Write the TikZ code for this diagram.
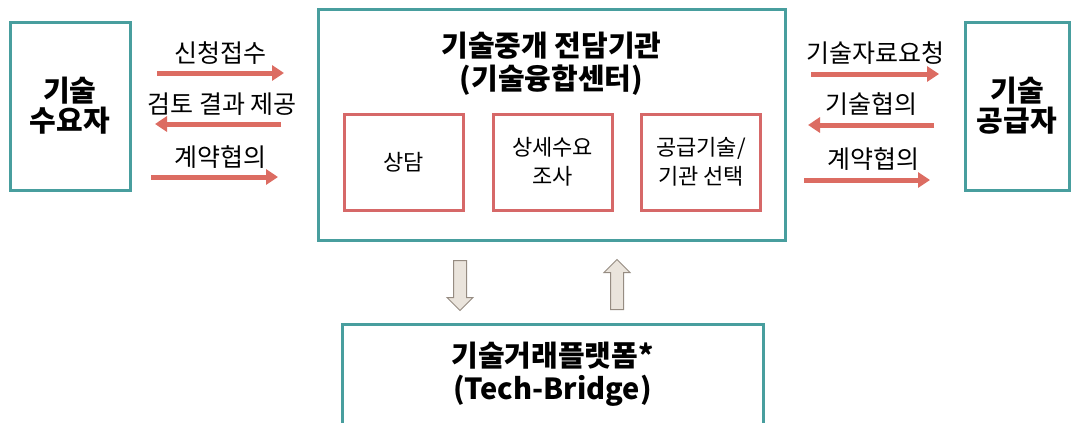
\documentclass[tikz,border=0pt]{standalone}
\usepackage{fontspec}
\setmainfont{Noto Sans CJK KR}
\usetikzlibrary{arrows.meta,shapes.arrows}
\definecolor{tealc}{RGB}{72,158,158}
\definecolor{redc}{RGB}{214,104,104}
\definecolor{arrc}{RGB}{220,108,98}
\definecolor{blkfill}{RGB}{234,228,220}
\definecolor{blkdraw}{RGB}{150,140,130}
\begin{document}
\begin{tikzpicture}[x=1pt,y=-1pt,
  tealbox/.style={draw=tealc, line width=3pt, fill=white, align=center, inner sep=0pt},
  redbox/.style={draw=redc, line width=3pt, fill=white, align=center, inner sep=0pt,
     minimum width=119pt, minimum height=96pt, font=\fontsize{22}{29}\selectfont},
  sidetxt/.style={font=\fontsize{29}{30}\selectfont\bfseries},
  bigtxt/.style={font=\fontsize{29}{33}\selectfont\bfseries},
  flow/.style={draw=arrc, line width=5pt, -{Triangle[length=12pt,width=15pt]}},
  lbl/.style={font=\fontsize{25}{28}\selectfont, inner sep=0pt},
  blk/.style={single arrow, draw=blkdraw, fill=blkfill, line width=1pt,
     inner sep=6pt, single arrow head extend=6.5pt, single arrow tip angle=90,
     minimum height=50pt}
]
\useasboundingbox (0,0) rectangle (1072,423);
\fill[white] (0,0) rectangle (1072,423);

% left box
\node[tealbox, minimum width=120pt, minimum height=168pt, sidetxt] (dem) at (70,106) {기술\\수요자};
% right box
\node[tealbox, minimum width=104pt, minimum height=168pt, sidetxt] (sup) at (1017,106) {기술\\공급자};
% center box
\node[tealbox, minimum width=467pt, minimum height=231pt] (ctr) at (551.5,124.5) {};
\node[bigtxt, align=center, inner sep=0pt] (ctrt) at (551.5,64) {기술중개 전담기관\\(기술융합센터)};
\node[redbox] (s1) at (403.5,162) {상담};
\node[redbox] (s2) at (552.5,162) {상세수요\\조사};
\node[redbox] (s3) at (701,162) {공급기술/\\기관 선택};
% bottom box
\node[tealbox, minimum width=421pt, minimum height=120pt, anchor=north] (plat) at (552.5,323) {};
\node[bigtxt, align=center, inner sep=0pt] (platt) at (552.5,374) {기술거래플랫폼*\\(Tech-Bridge)};

% left flow arrows
\coordinate (l1a) at (157,73);  \coordinate (l1b) at (284,73);
\coordinate (l2a) at (281,124); \coordinate (l2b) at (155,124);
\coordinate (l3a) at (151,177); \coordinate (l3b) at (278,177);
\draw[flow] (l1a) -- node[lbl, midway, yshift=20pt] (t1) {신청접수} (l1b);
\draw[flow] (l2a) -- node[lbl, midway, yshift=20pt, xshift=4pt] (t2) {검토 결과 제공} (l2b);
\draw[flow] (l3a) -- node[lbl, midway, yshift=20pt, xshift=6pt] (t3) {계약협의} (l3b);

% right flow arrows
\coordinate (r1a) at (811,74);  \coordinate (r1b) at (939,74);
\coordinate (r2a) at (934,125); \coordinate (r2b) at (808,125);
\coordinate (r3a) at (804,180); \coordinate (r3b) at (930,180);
\draw[flow] (r1a) -- node[lbl, midway, yshift=21pt] (t4) {기술자료요청} (r1b);
\draw[flow] (r2a) -- node[lbl, midway, yshift=21pt] (t5) {기술협의} (r2b);
\draw[flow] (r3a) -- node[lbl, midway, yshift=21pt, xshift=6pt] (t6) {계약협의} (r3b);

% block arrows
\node[blk, rotate=-90, anchor=tail] (down) at (460,260) {};
\node[blk, rotate=90, anchor=tail] (up) at (617,310) {};
\end{tikzpicture}
\end{document}
